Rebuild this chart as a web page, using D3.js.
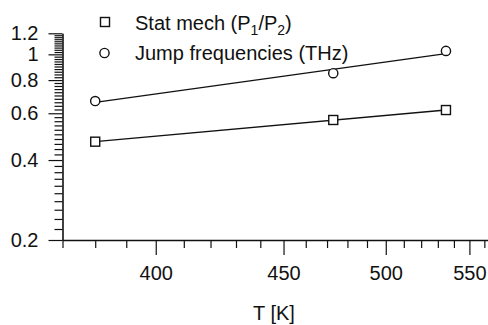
<!DOCTYPE html>
<html>
<head>
<meta charset="utf-8">
<script src="https://cdn.jsdelivr.net/npm/d3@7"></script>
<style>
  body { margin: 0; background: #fff; }
  text { font-family: "Liberation Sans", Arial, sans-serif; fill: #111; }
</style>
</head>
<body>
<svg id="chart"></svg>
<script>
const temps = [380, 473, 535];
const statMech = [0.469, 0.566, 0.617];
const jumpFreq = [0.667, 0.849, 1.03];
const xMajor = [400, 450, 500, 550];
const yMajor = [0.2, 0.4, 0.6, 0.8, 1, 1.2];

const width = 488;
const height = 325;
const axisX = 62.5;
const axisY = 240;

const svg = d3.select('#chart')
  .attr('width', width)
  .attr('height', height);

// x is linear in 1/T, so T grows to the right
const xScale = d3.scaleLinear()
  .domain([1 / 370, 1 / 562.5])
  .range([axisX, width]);

const yScale = d3.scaleLog()
  .domain([0.2, 1.2])
  .range([axisY, 33.3]);

const xMinor = d3.range(370, 570, 10).filter(t => !xMajor.includes(t) && t <= 562);
const yMinor = d3.range(22, 120, 2).map(v => v / 100).filter(v => !yMajor.some(m => Math.abs(m - v) < 1e-9));

// minor ticks first
svg.append('g')
   .attr('transform', 'translate(0,' + axisY + ')')
   .call(d3.axisBottom(xScale).tickValues(xMinor.map(t => 1 / t)).tickFormat('').tickSize(8))
   .call(g => g.select('.domain').remove());

svg.append('g')
   .attr('transform', 'translate(' + axisX + ',0)')
   .call(d3.axisLeft(yScale).tickValues(yMinor).tickFormat('').tickSize(8))
   .call(g => g.select('.domain').remove());

const xAxis = svg.append('g')
   .attr('transform', 'translate(0,' + axisY + ')')
   .call(d3.axisBottom(xScale)
     .tickValues(xMajor.map(t => 1 / t))
     .tickFormat(d => Math.round(1 / d))
     .tickSize(15)
     .tickSizeOuter(0)
     .tickPadding(11));

const yAxis = svg.append('g')
   .attr('transform', 'translate(' + axisX + ',0)')
   .call(d3.axisLeft(yScale)
     .tickValues(yMajor)
     .tickFormat(d => String(d))
     .tickSize(14)
     .tickSizeOuter(0)
     .tickPadding(10));

svg.selectAll('.tick line').attr('stroke', '#111').attr('stroke-width', 1.2);
svg.selectAll('.domain').attr('stroke', '#111').attr('stroke-width', 1.6);
svg.selectAll('.tick text').attr('font-size', 20).attr('fill', '#111')
   .attr('font-family', '"Liberation Sans", Arial, sans-serif');

svg.append('text')
   .attr('x', 274)
   .attr('y', 320)
   .attr('text-anchor', 'middle')
   .attr('font-size', 20)
   .text('T [K]');

// Arrhenius fit: ln(v) linear in 1/T
const fit = (vals) => {
  const xs = temps.map(t => 1 / t);
  const ys = vals.map(v => Math.log(v));
  const mx = d3.mean(xs), my = d3.mean(ys);
  const slope = d3.sum(xs, (x, i) => (x - mx) * (ys[i] - my)) / d3.sum(xs, x => (x - mx) * (x - mx));
  const icpt = my - slope * mx;
  return t => Math.exp(icpt + slope / t);
};

const line = d3.line()
  .x(d => xScale(1 / d[0]))
  .y(d => yScale(d[1]));

[statMech, jumpFreq].forEach(vals => {
  const f = fit(vals);
  const ends = [temps[0], temps[temps.length - 1]];
  svg.append('path')
     .attr('d', line(ends.map(t => [t, f(t)])))
     .attr('fill', 'none')
     .attr('stroke', '#111')
     .attr('stroke-width', 1.4);
});

svg.selectAll('rect.pt')
   .data(statMech)
   .enter()
   .append('rect')
   .attr('class', 'pt')
   .attr('x', (d, i) => xScale(1 / temps[i]) - 4.5)
   .attr('y', d => yScale(d) - 4.5)
   .attr('width', 9)
   .attr('height', 9)
   .attr('fill', '#fff')
   .attr('stroke', '#111')
   .attr('stroke-width', 1.4);

svg.selectAll('circle.pt')
   .data(jumpFreq)
   .enter()
   .append('circle')
   .attr('class', 'pt')
   .attr('cx', (d, i) => xScale(1 / temps[i]))
   .attr('cy', d => yScale(d))
   .attr('r', 4.6)
   .attr('fill', '#fff')
   .attr('stroke', '#111')
   .attr('stroke-width', 1.4);

// legend
svg.append('rect')
   .attr('x', 100.5).attr('y', 17.5).attr('width', 9).attr('height', 9)
   .attr('fill', '#fff').attr('stroke', '#111').attr('stroke-width', 1.4);
svg.append('circle')
   .attr('cx', 104.5).attr('cy', 53).attr('r', 4.6)
   .attr('fill', '#fff').attr('stroke', '#111').attr('stroke-width', 1.4);

const t1 = svg.append('text').attr('x', 135).attr('y', 29.5).attr('font-size', 20);
t1.append('tspan').text('Stat mech (P');
t1.append('tspan').attr('font-size', 14).attr('dy', 5).text('1');
t1.append('tspan').attr('dy', -5).text('/P');
t1.append('tspan').attr('font-size', 14).attr('dy', 5).text('2');
t1.append('tspan').attr('dy', -5).text(')');

svg.append('text').attr('x', 135).attr('y', 60).attr('font-size', 20)
   .text('Jump frequencies (THz)');
</script>
</body>
</html>
